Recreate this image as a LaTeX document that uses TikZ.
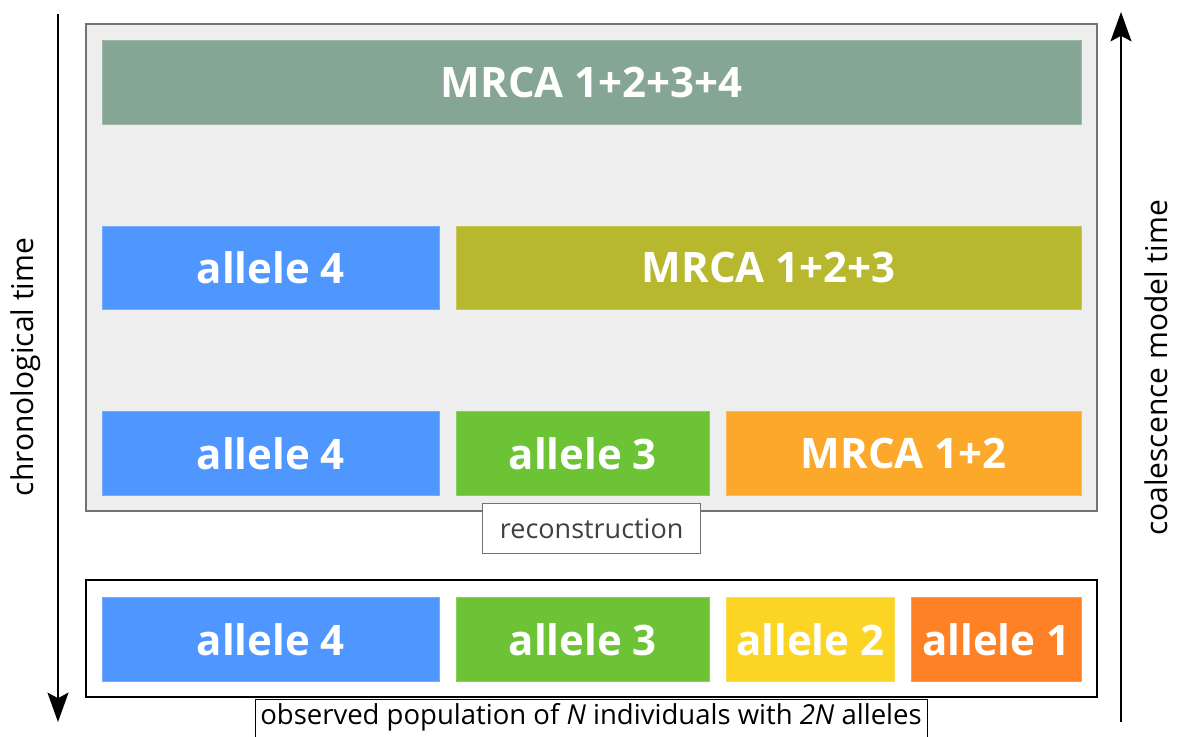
\documentclass[tikz,border=0pt]{standalone}
\usepackage{fontspec}
\setmainfont{Open Sans}
\usetikzlibrary{arrows.meta}
\definecolor{cgray}{HTML}{85A694}
\definecolor{cblue}{HTML}{4F97FF}
\definecolor{colive}{HTML}{B8B82E}
\definecolor{cgreen}{HTML}{6CC335}
\definecolor{corange}{HTML}{FCA82A}
\definecolor{cyellow}{HTML}{FCD424}
\definecolor{cred}{HTML}{FF8125}
\definecolor{panel}{HTML}{EEEEEE}
\begin{document}
\begin{tikzpicture}[x=1pt,y=-1pt,
  blk/.style={draw=#1!80!white,fill=#1,line width=0.6pt,text=white,font=\fontsize{42}{46}\selectfont\bfseries},
  lbl/.style={draw,fill=white,line width=1.3pt,inner sep=0pt},
  axis/.style={line width=1.8pt,-{Stealth[length=21pt,width=15pt,inset=4pt,scale=1.4]}}]
\useasboundingbox (0,0) rectangle (1177,736);
% axes
\coordinate (lt) at (58,14);
\coordinate (lb) at (58,722);
\draw[axis] (lt) -- (lb);
\coordinate (rb) at (1121,722);
\coordinate (rt) at (1121,12);
\draw[axis] (rb) -- (rt);
\node[rotate=90,font=\fontsize{30}{33}\selectfont] (chrono) at (26,367) {chronological time};
\node[rotate=90,font=\fontsize{30}{33}\selectfont] (coal) at (1156,368) {coalescence model time};
% reconstruction panel
\path[draw=black!55,fill=panel,line width=1.5pt] (86,24) rectangle (1097,511);
\node[blk=cgray,minimum width=979pt,minimum height=84pt,anchor=north west] (m1234) at (102,40) {MRCA 1+2+3+4};
\node[blk=cblue,minimum width=337pt,minimum height=83pt,anchor=north west] (a4b) at (102,226) {allele 4};
\node[blk=colive,minimum width=625pt,minimum height=83pt,anchor=north west] (m123) at (456,226) {MRCA 1+2+3};
\node[blk=cblue,minimum width=337pt,minimum height=84pt,anchor=north west] (a4c) at (102,411) {allele 4};
\node[blk=cgreen,minimum width=253pt,minimum height=84pt,anchor=north west] (a3c) at (456,411) {allele 3};
\node[blk=corange,minimum width=355pt,minimum height=84pt,anchor=north west] (m12) at (726,411) {MRCA 1+2};
\node[lbl,draw=black!55,text=black!75,minimum width=218pt,minimum height=50pt,anchor=north west,font=\fontsize{27}{30}\selectfont] (recon) at (482,503) {reconstruction};
% observed
\path[draw=black,line width=1.5pt] (86,580) rectangle (1097,697);
\node[blk=cblue,minimum width=337pt,minimum height=84pt,anchor=north west] (a4) at (102,597) {allele 4};
\node[blk=cgreen,minimum width=253pt,minimum height=84pt,anchor=north west] (a3) at (456,597) {allele 3};
\node[blk=cyellow,minimum width=168pt,minimum height=84pt,anchor=north west] (a2) at (726,597) {allele 2};
\node[blk=cred,minimum width=170pt,minimum height=84pt,anchor=north west] (a1) at (911,597) {allele 1};
\begin{scope}
\clip (0,0) rectangle (1177,736);
\node[lbl,draw=black,minimum width=672pt,minimum height=60pt,anchor=north west] (obs) at (255,699) {};
\end{scope}
\node[font=\fontsize{27.5}{30}\selectfont,anchor=base] (obst) at (591,724) {observed population of \textit{N} individuals with \textit{2N} alleles};
\end{tikzpicture}
\end{document}
